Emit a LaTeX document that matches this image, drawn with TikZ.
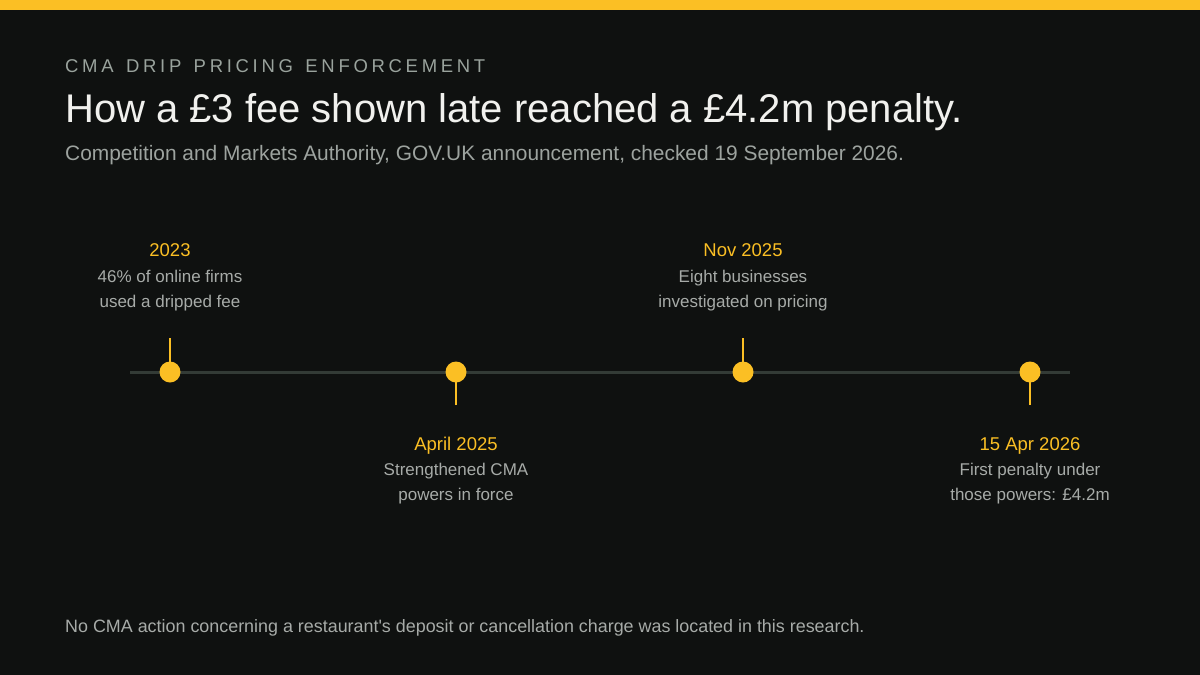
\documentclass[tikz,border=0pt]{standalone}
\usepackage{fontspec}
\setmainfont{Liberation Sans}
\newfontfamily\kickfont[LetterSpace=20,WordSpace=1.4]{Liberation Sans}
\usepackage{xcolor}
\usetikzlibrary{positioning}

\definecolor{bgdark}{HTML}{0F1110}
\definecolor{amber}{HTML}{FBBF24}
\definecolor{kicker}{HTML}{9AA39D}
\definecolor{titlewhite}{HTML}{F1F1EE}
\definecolor{subgray}{HTML}{9DA39F}
\definecolor{descgray}{HTML}{A7ABA8}
\definecolor{axisgray}{HTML}{333B36}

\begin{document}
\begin{tikzpicture}[x=1pt, y=-1pt,
    kick/.style={anchor=base west, inner sep=0pt, text=kicker,
                 font=\kickfont\fontsize{18.5}{22}\selectfont},
    headline/.style={anchor=base west, inner sep=0pt, text=titlewhite,
                     font=\fontsize{40}{48}\selectfont},
    subline/.style={anchor=base west, inner sep=0pt, text=subgray,
                    font=\fontsize{20.9}{24}\selectfont},
    year/.style={anchor=base, inner sep=0pt, text=amber,
                 font=\fontsize{18.5}{22}\selectfont},
    desc/.style={anchor=north, inner sep=0pt, text=descgray, align=center,
                 font=\fontsize{17}{24.5}\selectfont},
    foot/.style={anchor=base west, inner sep=0pt, text=descgray,
                 font=\fontsize{17.9}{20}\selectfont},
    dot/.style={circle, fill=amber, minimum size=21pt, inner sep=0pt},
    stem/.style={draw=amber, line width=2pt},
    axis/.style={draw=axisgray, line width=3pt}
  ]

  % Canvas
  \fill[bgdark] (0,0) rectangle (1200,675);
  \fill[amber] (0,0) rectangle (1200,10);
  \useasboundingbox (0,0) rectangle (1200,675);

  % Header
  \node[kick] (kick) at (65,72) {CMA DRIP PRICING ENFORCEMENT};
  \node[headline] (title) at (65,122) {How a £3 fee shown late reached a £4.2m penalty.};
  \node[subline] (sub) at (65,160) {Competition and Markets Authority, GOV.UK announcement, checked 19 September 2026.};

  % Axis
  \coordinate (axl) at (130,372);
  \coordinate (axr) at (1070,372);
  \draw[axis] (axl) -- (axr);

  % Stems
  \coordinate (s1) at (170,338);
  \coordinate (s2) at (456,405);
  \coordinate (s3) at (743,338);
  \coordinate (s4) at (1030,405);
  \draw[stem] (s1) -- (170,372);
  \draw[stem] (s2) -- (456,372);
  \draw[stem] (s3) -- (743,372);
  \draw[stem] (s4) -- (1030,372);

  % Dots
  \node[dot] (d1) at (170,372) {};
  \node[dot] (d2) at (456,372) {};
  \node[dot] (d3) at (743,372) {};
  \node[dot] (d4) at (1030,372) {};

  % Events above
  \node[year] (y1) at (170,256) {2023};
  \node[desc] (t1) at (170,270) {46\% of online firms\\used a dripped fee};
  \node[year] (y3) at (743,256) {Nov 2025};
  \node[desc] (t3) at (743,270) {Eight businesses\\investigated on pricing};

  % Events below
  \node[year] (y2) at (456,450) {April 2025};
  \node[desc] (t2) at (456,463) {Strengthened CMA\\powers in force};
  \node[year] (y4) at (1030,450) {15 Apr 2026};
  \node[desc] (t4) at (1030,463) {First penalty under\\those powers: £4.2m};

  % Footer
  \node[foot] (note) at (65,632) {No CMA action concerning a restaurant\textquotesingle s deposit or cancellation charge was located in this research.};

\end{tikzpicture}
\end{document}
